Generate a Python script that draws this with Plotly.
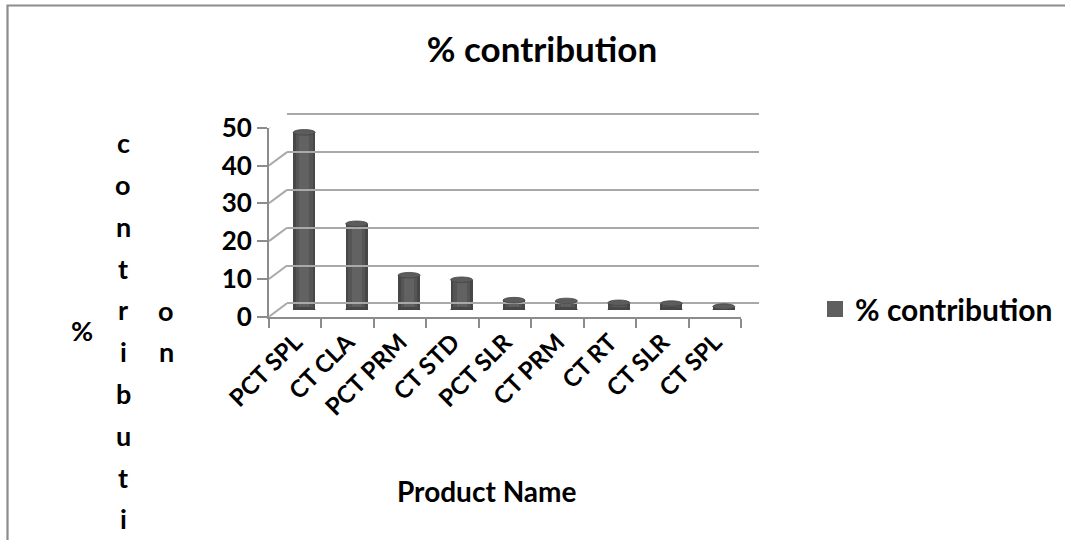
import plotly.graph_objects as go

# ---- data ----
categories = ["PCT SPL", "CT CLA", "PCT PRM", "CT STD", "PCT SLR",
              "CT PRM", "CT RT", "CT SLR", "CT SPL"]
contribution = [47.0, 22.8, 9.2, 8.0, 2.6, 2.4, 1.9, 1.7, 0.9]
y_ticks = [0, 10, 20, 30, 40, 50]
series_name = "% contribution"
chart_title = "% contribution"
x_title = "Product Name"
y_title_columns = ["%", "contributi", "on"]

# ---- page geometry (pixels) ----
W, H = 1065, 540
FONT = "Lato"
FRONT_L, FRONT_R = 269, 741        # front category axis
FRONT_B, FRONT_T = 316.7, 127.7    # front value axis (0 .. 50)
DX, DY = 18, 13.4                  # depth offset of the back wall
GRID = "#a9a9a9"
AXIS = "#8c8c8c"
Y_MAX = y_ticks[-1]
BAR_W = 0.42
PPU = (FRONT_B - FRONT_T) / Y_MAX  # pixels per value unit
PAD = 0.5                          # keeps the end gridlines inside the back wall


def fx(px):
    return px / W


def fy(py):
    return 1 - py / H


def dom_x(shift):
    return [fx(FRONT_L + shift), fx(FRONT_R + shift)]


def dom_y(shift, pad=0.0):
    return [fy(FRONT_B - shift + pad * PPU), fy(FRONT_T - shift - pad * PPU)]


idx = list(range(len(categories)))
fig = go.Figure()

# back wall subplot (holds only the gridlines)
fig.add_trace(go.Scatter(x=[], y=[], xaxis="x3", yaxis="y3", showlegend=False,
                         hoverinfo="skip"))

# cylinder bodies: layered bars of decreasing width give a rounded shading
for w, col in [(BAR_W, "#474747"), (BAR_W * 0.76, "#555555"), (BAR_W * 0.45, "#626262")]:
    fig.add_trace(go.Bar(
        x=categories, y=contribution, width=w, xaxis="x2", yaxis="y2",
        marker=dict(color=col, line=dict(width=0)), showlegend=False,
        hoverinfo="skip" if w != BAR_W else None,
    ))

# legend entry
fig.add_trace(go.Scatter(
    x=[None], y=[None], mode="markers", name=series_name,
    marker=dict(symbol="square", size=16, color="#5f5f5f"),
    xaxis="x2", yaxis="y2",
))

shapes = []
cap_half_w = BAR_W * (FRONT_R - FRONT_L) / len(categories) / 2
# elliptical caps at the base and top of every cylinder
for cat, val in zip(categories, contribution):
    for anchor, fill in [(0, "#474747"), (val, "#5c5c5c")]:
        shapes.append(dict(
            type="circle", xref="x2", yref="y2",
            xsizemode="pixel", ysizemode="pixel",
            xanchor=cat, yanchor=anchor,
            x0=-cap_half_w, x1=cap_half_w, y0=-2.8, y1=2.8,
            fillcolor=fill, line=dict(color="#444444", width=0.8),
            layer="above",
        ))

# side wall lines joining the front value axis to the back wall
for v in y_ticks:
    shapes.append(dict(
        type="line", xref="x", yref="y",
        xsizemode="pixel", ysizemode="pixel",
        xanchor=-0.5, yanchor=v, x0=0, x1=DX, y0=0, y1=DY,
        line=dict(color=GRID, width=2), layer="below",
    ))
# right edge of the floor
shapes.append(dict(
    type="line", xref="x", yref="y",
    xsizemode="pixel", ysizemode="pixel",
    xanchor=len(categories) - 0.5, yanchor=0, x0=0, x1=DX, y0=0, y1=DY,
    line=dict(color=GRID, width=2), layer="below",
))
# chart frame
shapes.append(dict(
    type="rect", xref="paper", yref="paper",
    x0=fx(7.5), x1=1.05, y0=-0.05, y1=fy(5.5),
    line=dict(color="#8c8c8c", width=2.2), fillcolor="rgba(0,0,0,0)",
))

annotations = []
# value-axis title, stacked letter by letter in columns
col_x = [81.7, 123.3, 166]
col_y0 = [330, 142.7, 310]
STEP = 41.8
for text, cx, cy in zip(y_title_columns, col_x, col_y0):
    for k, ch in enumerate(text):
        annotations.append(dict(
            text=ch, x=fx(cx), y=fy(cy + k * STEP), xref="paper", yref="paper",
            xanchor="center", yanchor="middle", showarrow=False,
            font=dict(family=FONT, size=27, color="black", weight="bold"),
        ))
annotations.append(dict(
    text=x_title, x=fx(486), y=fy(491), xref="paper", yref="paper",
    xanchor="center", yanchor="middle", showarrow=False,
    font=dict(family=FONT, size=28, color="black", weight="bold"),
))

ytick_font = dict(family=FONT, size=26, color="black", weight="bold")
xtick_font = dict(family=FONT, size=24, color="black", weight="bold")

fig.update_layout(
    width=W, height=H, margin=dict(l=0, r=0, t=0, b=0, autoexpand=False),
    paper_bgcolor="white", plot_bgcolor="rgba(0,0,0,0)",
    barmode="overlay", bargap=0,
    title=dict(text=chart_title, x=fx(542), y=fy(50), xanchor="center", yanchor="middle",
               font=dict(family=FONT, size=35, color="black", weight="bold")),
    showlegend=True,
    legend=dict(x=fx(815), y=fy(309), xanchor="left", yanchor="middle",
                font=dict(family=FONT, size=30, color="black", weight="bold"),
                bgcolor="rgba(0,0,0,0)", itemsizing="trace"),
    # front axes: value labels and category labels
    xaxis=dict(domain=dom_x(0), anchor="y", range=[-0.5, len(categories) - 0.5],
               tickvals=idx, ticktext=categories, tickangle=-45, ticks="",
               tickfont=xtick_font, showgrid=False, zeroline=False, automargin=False,
               showline=True, linecolor=AXIS, linewidth=2,
               minor=dict(tickvals=[i - 0.5 for i in range(len(categories) + 1)],
                          ticks="outside", ticklen=9, tickcolor=AXIS, tickwidth=1.5,
                          showgrid=False)),
    yaxis=dict(domain=dom_y(0), anchor="x", range=[0, Y_MAX], tickvals=y_ticks,
               ticks="outside", ticklen=10, tickcolor=AXIS, tickwidth=1.5,
               tickfont=ytick_font, showgrid=False, zeroline=False, automargin=False,
               showline=True, linecolor=AXIS, linewidth=2),
    # middle depth: the cylinders
    xaxis2=dict(domain=dom_x(DX / 2), anchor="y2", range=[-0.5, len(categories) - 0.5],
                visible=False, categoryorder="array", categoryarray=categories),
    yaxis2=dict(domain=dom_y(DY / 2), anchor="x2", range=[0, Y_MAX], visible=False),
    # back wall gridlines
    xaxis3=dict(domain=dom_x(DX), anchor="y3", range=[0, 1], showticklabels=False,
                ticks="", showgrid=False, zeroline=False, showline=False),
    yaxis3=dict(domain=dom_y(DY, PAD), anchor="x3", range=[-PAD, Y_MAX + PAD],
                tickvals=y_ticks, showticklabels=False, ticks="", showgrid=True,
                gridcolor=GRID, gridwidth=2, zeroline=True, zerolinecolor=GRID,
                zerolinewidth=2, showline=False),
    shapes=shapes, annotations=annotations,
)

fig.write_html("out.html")
